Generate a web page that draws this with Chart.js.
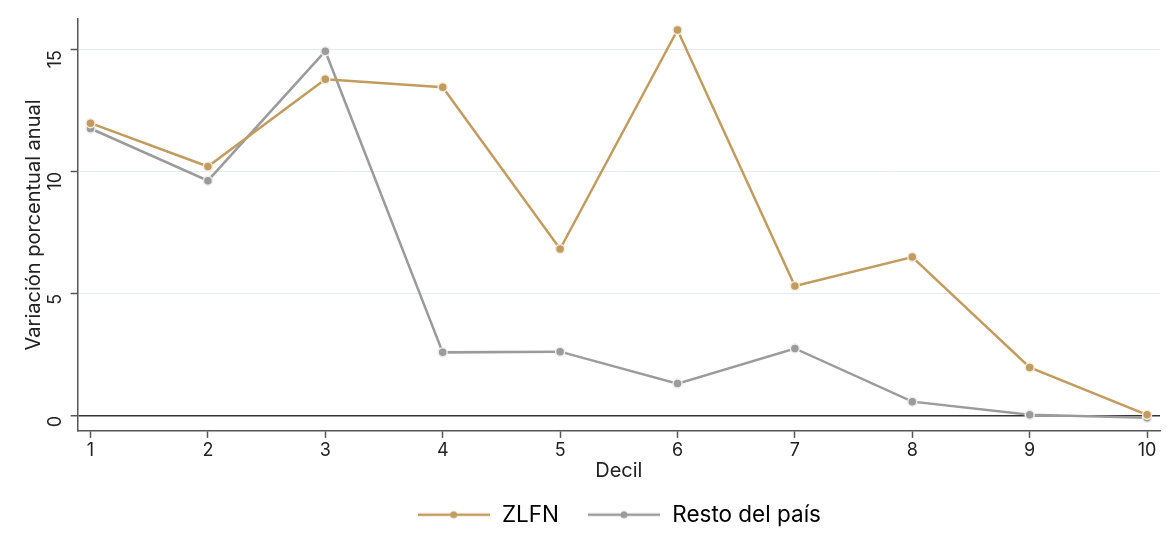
<!DOCTYPE html>
<html>
<head>
<meta charset="utf-8">
<script src="https://cdn.jsdelivr.net/npm/chart.js@4.4.1/dist/chart.umd.min.js"></script>
<style>
  html, body { margin: 0; padding: 0; background: #fff; }
  #wrap { width: 1167px; height: 553px; }
</style>
</head>
<body>
<div id="wrap"><canvas id="decilChart" width="1167" height="553"></canvas></div>
<script>
const deciles = [1, 2, 3, 4, 5, 6, 7, 8, 9, 10];
const zlfn = [12.0, 10.22, 13.8, 13.47, 6.84, 15.82, 5.32, 6.51, 1.98, 0.04];
const resto = [11.78, 9.64, 14.95, 2.6, 2.63, 1.32, 2.76, 0.58, 0.04, -0.08];
const yTicks = [0, 5, 10, 15];

const gold = '#c29b5e';
const grey = '#9b9b9b';
const fontFamily = 'Inter, "Open Sans", sans-serif';

// legend marker: line with a dot in the middle
function legendMarker(color) {
    const c = document.createElement('canvas');
    c.width = 72;
    c.height = 10;
    const g = c.getContext('2d');
    g.strokeStyle = color;
    g.lineWidth = 2.5;
    g.beginPath();
    g.moveTo(0, 5);
    g.lineTo(72, 5);
    g.stroke();
    g.fillStyle = color;
    g.beginPath();
    g.arc(36, 5, 3.5, 0, Math.PI * 2);
    g.fill();
    return c;
}

const toPoints = arr => arr.map((v, i) => ({ x: deciles[i], y: v }));

const ctx = document.getElementById('decilChart').getContext('2d');
const chart = new Chart(ctx, {
    type: 'line',
    data: {
        datasets: [{
            label: 'ZLFN',
            data: toPoints(zlfn),
            borderColor: gold,
            backgroundColor: gold,
            borderWidth: 2.5,
            pointRadius: 4.5,
            pointBorderColor: '#f3ebde',
            pointBorderWidth: 1.5,
            pointBackgroundColor: gold,
            tension: 0
        }, {
            label: 'Resto del país',
            data: toPoints(resto),
            borderColor: grey,
            backgroundColor: grey,
            borderWidth: 2.5,
            pointRadius: 4.5,
            pointBorderColor: '#ececec',
            pointBorderWidth: 1.5,
            pointBackgroundColor: grey,
            tension: 0
        }]
    },
    options: {
        responsive: false,
        animation: false,
        layout: {
            padding: { left: 22, right: 7, top: 19, bottom: 17 }
        },
        scales: {
            x: {
                type: 'linear',
                min: 0.89,
                max: 10.11,
                afterBuildTicks: axis => {
                    axis.ticks = deciles.map(v => ({ value: v }));
                },
                border: { display: true, color: '#555', width: 1.5 },
                grid: { drawOnChartArea: false, tickLength: 7, tickColor: '#555', tickWidth: 1.5 },
                ticks: {
                    color: '#222',
                    font: { family: fontFamily, size: 18 },
                    padding: 2,
                    maxRotation: 0
                },
                title: {
                    display: true,
                    text: 'Decil',
                    color: '#222',
                    font: { family: fontFamily, size: 20 },
                    padding: { top: -5, bottom: -7 }
                }
            },
            y: {
                min: -0.62,
                max: 16.27,
                afterBuildTicks: axis => {
                    axis.ticks = yTicks.map(v => ({ value: v }));
                },
                // tick padding should not push the plot top down
                afterFit: axis => {
                    axis.paddingTop = 0;
                    axis.paddingBottom = 0;
                },
                border: { display: true, color: '#555', width: 1.5 },
                grid: {
                    color: c => c.tick && c.tick.value === 0 ? '#333' : '#e3eded',
                    lineWidth: c => c.tick && c.tick.value === 0 ? 1.5 : 1,
                    tickColor: '#555',
                    tickLength: 7,
                    tickWidth: 1.5
                },
                ticks: {
                    color: '#222',
                    font: { family: fontFamily, size: 18 },
                    minRotation: 90,
                    maxRotation: 90,
                    padding: 15
                },
                title: {
                    display: true,
                    text: 'Variación porcentual anual',
                    color: '#222',
                    font: { family: fontFamily, size: 20 },
                    padding: { top: 0, bottom: -27 }
                }
            }
        },
        plugins: {
            legend: {
                position: 'bottom',
                fullSize: false,
                labels: {
                    usePointStyle: true,
                    pointStyleWidth: 74,
                    color: '#222',
                    font: { family: fontFamily, size: 22.5 },
                    padding: 28,
                    generateLabels: chart => chart.data.datasets.map((ds, i) => ({
                        text: ds.label,
                        pointStyle: legendMarker(ds.borderColor),
                        fillStyle: ds.borderColor,
                        strokeStyle: ds.borderColor,
                        lineWidth: 0,
                        datasetIndex: i
                    }))
                }
            },
            tooltip: { enabled: false }
        }
    }
});
</script>
</body>
</html>
